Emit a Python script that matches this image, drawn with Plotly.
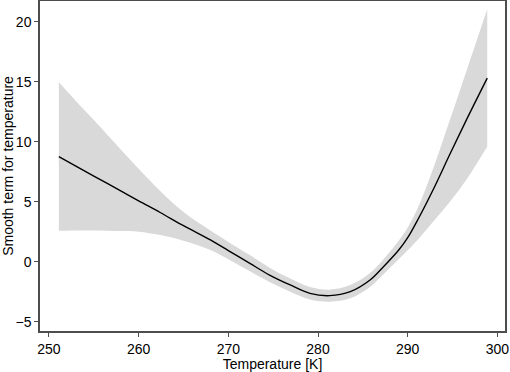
import plotly.graph_objects as go

temp = [251.1, 253, 255, 258, 260, 262.4, 265, 268, 270, 272.4, 274.6, 276.9,
        279.1, 281.3, 283.6, 285.8, 287.3, 289.0, 290.0, 291.2, 293.0, 294.7,
        296.6, 298.87]
fit = [8.75, 7.97, 7.14, 5.9, 5.07, 4.1, 3.0, 1.81, 0.93, -0.14, -1.11, -1.94,
       -2.64, -2.83, -2.5, -1.53, -0.42, 0.97, 2.0, 3.6, 6.25, 8.95,
       11.9, 15.3]
upper = [14.95, 13.4, 11.8, 9.35, 7.75, 5.9, 4.15, 2.6, 1.65, 0.55, -0.5, -1.4,
         -2.1, -2.33, -1.95, -0.95, 0.2, 1.75, 2.85, 4.6, 8.1, 11.8,
         16.0, 21.03]
lower = [2.58, 2.6, 2.6, 2.55, 2.5, 2.22, 1.75, 0.97, 0.2, -0.8, -1.7, -2.5,
         -3.15, -3.33, -3.05, -2.1, -1.05, 0.2, 0.95, 1.9, 3.48, 5.0,
         6.9, 9.6]

x_ticks = [250, 260, 270, 280, 290, 300]
y_ticks = [-5, 0, 5, 10, 15, 20]

band = "#d9d9d9"
axis_col = "#4d4d4d"
font_family = "Liberation Sans, Arial, sans-serif"

fig = go.Figure()
fig.add_trace(go.Scatter(x=temp, y=lower, mode="lines",
                         line=dict(width=0, color=band, shape="spline", smoothing=1.0),
                         showlegend=False, hoverinfo="skip"))
fig.add_trace(go.Scatter(x=temp, y=upper, mode="lines", fill="tonexty",
                         fillcolor=band,
                         line=dict(width=0, color=band, shape="spline", smoothing=1.0),
                         showlegend=False, hoverinfo="skip"))
fig.add_trace(go.Scatter(x=temp, y=fit, mode="lines",
                         line=dict(width=1.4, color="black", shape="spline", smoothing=1.0),
                         showlegend=False))

axis_common = dict(showline=True, mirror=True, linecolor=axis_col, linewidth=1.5,
                   ticks="outside", ticklen=4, tickwidth=1.2, tickcolor=axis_col,
                   showgrid=False, zeroline=False, automargin=False,
                   tickfont=dict(family=font_family, size=14, color="black"))

fig.update_xaxes(range=[249.0, 300.85], tickvals=x_ticks,
                 title=dict(text="Temperature [K]", standoff=2,
                            font=dict(family=font_family, size=14, color="black")),
                 **axis_common)
fig.update_yaxes(range=[-5.775, 21.725], tickvals=y_ticks,
                 title=dict(text="Smooth term for temperature", standoff=4,
                            font=dict(family=font_family, size=14, color="black")),
                 **axis_common)

fig.update_layout(width=510, height=372,
                  margin=dict(l=40, r=5, t=1, b=41),
                  paper_bgcolor="white", plot_bgcolor="white",
                  font=dict(family=font_family, size=14, color="black"))

fig.write_html("out.html", config={"displayModeBar": False},
               post_script="document.body.style.margin='0';document.body.style.padding='0';")
